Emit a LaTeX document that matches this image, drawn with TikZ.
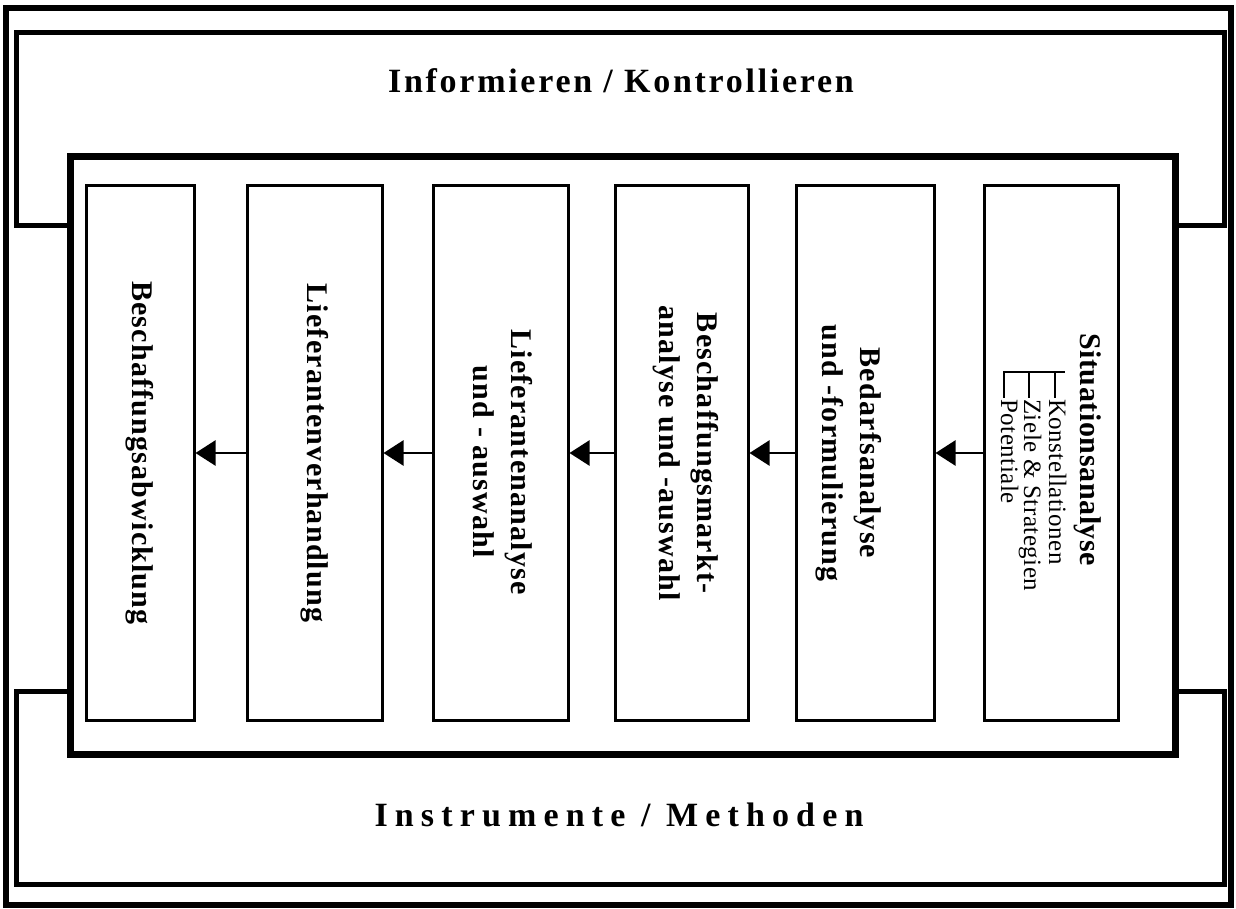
\documentclass[tikz,border=0pt]{standalone}
\usepackage{fontspec}
\setmainfont{Liberation Serif}
\newfontfamily\boxfnt[LetterSpace=4]{Liberation Serif}
\newfontfamily\sitfnt[LetterSpace=2]{Liberation Serif}
\newfontfamily\subfnt[LetterSpace=2]{Liberation Serif}
\newfontfamily\hdAfnt[LetterSpace=8]{Liberation Serif}
\newfontfamily\hdBfnt[LetterSpace=21]{Liberation Serif}
\usetikzlibrary{arrows.meta}
\begin{document}
\begin{tikzpicture}[x=1pt,y=-1pt,
  outerframe/.style={line width=6pt},
  uframe/.style={line width=5pt, line join=miter},
  mainbox/.style={line width=7pt},
  stepbox/.style={draw, line width=3pt, inner sep=0pt, minimum height=534pt},
  boxtxt/.style={rotate=-90, align=center, font=\boxfnt\bfseries\fontsize{30}{38}\selectfont},
  flow/.style={line width=2.5pt, -{Triangle[length=20pt,width=25pt]}},
  treeline/.style={line width=2pt},
  heading/.style={anchor=base, inner sep=0pt},
  subitem/.style={rotate=-90, anchor=base west, inner sep=0pt, font=\subfnt\fontsize{25}{25}\selectfont}
]
\useasboundingbox (0,0) rectangle (1236,909);
\fill[white] (0,0) rectangle (1236,909);
% outer border
\draw[outerframe] (6,8) rectangle (1231,905);
% top and bottom frames
\draw[uframe] (70,226) -- (16,226) -- (16,33) -- (1224,33) -- (1224,226) -- (1175,226);
\draw[uframe] (70,691) -- (16,691) -- (16,884) -- (1224,884) -- (1224,691) -- (1175,691);
% main box
\draw[mainbox] (70,157) rectangle (1175,754);
% headings
\node[heading, font=\hdAfnt\bfseries\fontsize{34}{40}\selectfont] (hA) at (621,93) {Informieren / Kontrollieren};
\node[heading, font=\hdBfnt\bfseries\fontsize{34}{40}\selectfont] (hB) at (619,826) {Instrumente / Methoden};
% step boxes
\node[stepbox, minimum width=108pt] (b1) at (140,453) {};
\node[stepbox, minimum width=135pt] (b2) at (314.5,453) {};
\node[stepbox, minimum width=135pt] (b3) at (500.5,453) {};
\node[stepbox, minimum width=133pt] (b4) at (681.5,453) {};
\node[stepbox, minimum width=138pt] (b5) at (865,453) {};
\node[stepbox, minimum width=134pt] (b6) at (1051,453) {};
% box texts
\node[boxtxt] (t1) at (b1.center) {Beschaffungsabwicklung};
\node[boxtxt] (t2) at (b2.center) {Lieferantenverhandlung};
\node[boxtxt] (t3) at (503,462) {Lieferantenanalyse\\und - auswahl};
\node[boxtxt] (t4) at (686,453) {Beschaffungsmarkt-\\analyse und -auswahl};
\node[boxtxt] (t5) at (849,453) {Bedarfsanalyse\\und -formulierung};
\node[rotate=-90, anchor=base west, inner sep=0pt, font=\sitfnt\bfseries\fontsize{30}{34}\selectfont] (t6) at (1080,333) {Situationsanalyse};
\node[subitem] (s1) at (1049,399) {Konstellationen};
\node[subitem] (s2) at (1024,399) {Ziele \& Strategien};
\node[subitem] (s3) at (1001,399) {Potentiale};
% tree lines
\draw[treeline] (1003,372) -- (1065,372);
\draw[treeline] (1055,372) -- (1055,398);
\draw[treeline] (1029,372) -- (1029,398);
\draw[treeline] (1004,372) -- (1004,398);
% arrows
\draw[flow] (b6.west) -- (b5.east);
\draw[flow] (b5.west) -- (b4.east);
\draw[flow] (b4.west) -- (b3.east);
\draw[flow] (b3.west) -- (b2.east);
\draw[flow] (b2.west) -- (b1.east);
\end{tikzpicture}
\end{document}
